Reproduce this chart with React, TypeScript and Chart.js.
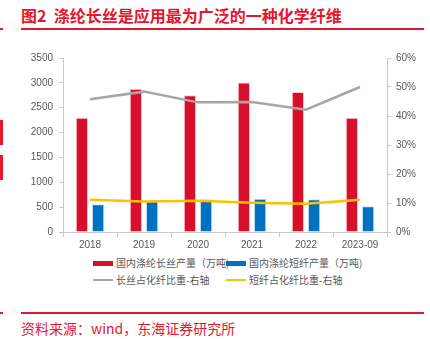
import React, { useEffect, useRef } from "react";
import { Chart, registerables } from "chart.js";

Chart.register(...registerables);

const categories = ["2018", "2019", "2020", "2021", "2022", "2023-09"];
const filamentOutput = [2300, 2880, 2750, 3005, 2815, 2300];
const staphOutput = [557, 617, 657, 670, 657, 517];
const filamentShare = [45.8, 48.4, 44.7, 44.8, 42.2, 50.0];
const staphShare = [11.1, 10.5, 10.8, 10.1, 9.7, 11.1];
const leftTicks = [0, 500, 1000, 1500, 2000, 2500, 3000, 3500];
const rightTicks = [0, 10, 20, 30, 40, 50, 60];

const titleText = "图2  涤纶长丝是应用最为广泛的一种化学纤维";
const sourceText = "资料来源：wind，东海证券研究所";
const legendLabels = [
  "国内涤纶长丝产量（万吨)",
  "国内涤纶短纤产量（万吨)",
  "长丝占化纤比重-右轴",
  "短纤占化纤比重-右轴",
];

const RED = "#D80F2B";
const BLUE = "#0070C0";
const GRAY = "#A6A6A6";
const YELLOW = "#FFC000";
const TITLE_RED = "#E3172E";
const FONT = "'Noto Sans CJK SC', 'Noto Sans', sans-serif";
const NUM_FONT = "'Liberation Sans', Arial, sans-serif";
const AXIS = "#C8C8C8";
const TICK_COLOR = "#595959";

export default function App() {
  const canvasRef = useRef<HTMLCanvasElement | null>(null);

  useEffect(() => {
    const ctx = canvasRef.current!;
    const chart = new Chart(ctx, {
      type: "bar",
      data: {
        labels: categories,
        datasets: [
          {
            type: "line",
            label: legendLabels[2],
            data: filamentShare,
            yAxisID: "y1",
            borderColor: GRAY,
            borderWidth: 2.5,
            pointRadius: 0,
            tension: 0,
            order: 0,
          },
          {
            type: "line",
            label: legendLabels[3],
            data: staphShare,
            yAxisID: "y1",
            borderColor: YELLOW,
            borderWidth: 2.5,
            pointRadius: 0,
            tension: 0,
            order: 0,
          },
          {
            type: "bar",
            label: legendLabels[0],
            data: filamentOutput,
            yAxisID: "y",
            backgroundColor: RED,
            borderColor: "rgba(255,200,205,0.9)",
            borderWidth: 1,
            categoryPercentage: 0.6,
            barPercentage: 0.76,
            order: 1,
          },
          {
            type: "bar",
            label: legendLabels[1],
            data: staphOutput,
            yAxisID: "y",
            backgroundColor: BLUE,
            borderColor: "rgba(190,220,245,0.9)",
            borderWidth: 1,
            categoryPercentage: 0.6,
            barPercentage: 0.76,
            order: 1,
          },
        ],
      },
      options: {
        animation: false,
        responsive: false,
        maintainAspectRatio: false,
        events: [],
        layout: { padding: { top: 13, left: 0, right: 0, bottom: 0 } },
        plugins: {
          legend: { display: false },
          title: { display: false },
          tooltip: { enabled: false },
        },
        scales: {
          x: {
            type: "category",
            offset: true,
            grid: {
              offset: true,
              drawOnChartArea: false,
              drawTicks: true,
              tickLength: 5,
              color: AXIS,
            },
            border: { color: AXIS, width: 1 },
            ticks: {
              color: TICK_COLOR,
              font: { family: NUM_FONT, size: 10 },
              padding: 2,
              maxRotation: 0,
              autoSkip: false,
            },
            afterFit: (scale: any) => {
              scale.height = 23;
            },
          },
          y: {
            type: "linear",
            position: "left",
            min: 0,
            max: 3500,
            afterBuildTicks: (scale: any) => {
              scale.ticks = leftTicks.map((v) => ({ value: v }));
            },
            grid: {
              drawOnChartArea: false,
              drawTicks: true,
              tickLength: 4,
              color: AXIS,
            },
            border: { color: AXIS, width: 1 },
            ticks: {
              color: TICK_COLOR,
              font: { family: NUM_FONT, size: 10 },
              padding: 6,
              callback: (v: any) => String(v),
            },
            afterFit: (scale: any) => {
              scale.width = 63;
            },
          },
          y1: {
            type: "linear",
            position: "right",
            min: 0,
            max: 60,
            afterBuildTicks: (scale: any) => {
              scale.ticks = rightTicks.map((v) => ({ value: v }));
            },
            grid: {
              drawOnChartArea: false,
              drawTicks: true,
              tickLength: 4,
              color: AXIS,
            },
            border: { color: AXIS, width: 1 },
            ticks: {
              color: TICK_COLOR,
              font: { family: NUM_FONT, size: 10 },
              padding: 5,
              callback: (v: any) => `${v}%`,
            },
            afterFit: (scale: any) => {
              scale.width = 43;
            },
          },
        },
      },
    });
    return () => chart.destroy();
  }, []);

  const legendItem = (
    idx: number,
    color: string,
    kind: "box" | "line",
    left: number,
    top: number
  ) => (
    <div
      key={idx}
      style={{
        position: "absolute",
        left,
        top,
        height: 14,
        display: "flex",
        alignItems: "center",
        whiteSpace: "nowrap",
      }}
    >
      <span
        style={{
          display: "inline-block",
          width: 20,
          height: kind === "box" ? 5 : 2,
          background: color,
          marginRight: 3,
        }}
      />
      <span style={{ fontSize: 10, color: TICK_COLOR, fontFamily: FONT, lineHeight: "14px" }}>
        {legendLabels[idx]}
      </span>
    </div>
  );

  return (
    <div
      style={{
        position: "absolute",
        left: 0,
        top: 0,
        width: 430,
        height: 339,
        background: "#fff",
        fontFamily: FONT,
        overflow: "hidden",
      }}
    >
      <div
        style={{
          position: "absolute",
          left: 21,
          top: 4,
          fontSize: 16,
          fontWeight: 700,
          color: TITLE_RED,
          whiteSpace: "pre",
          lineHeight: "23px",
        }}
      >
        {titleText}
      </div>
      <div style={{ position: "absolute", left: 21, top: 28, width: 403, height: 1.5, background: TITLE_RED }} />
      <div style={{ position: "absolute", left: 0, top: 28, width: 3, height: 1.5, background: TITLE_RED }} />
      <div style={{ position: "absolute", left: 0, top: 120, width: 3, height: 25, background: TITLE_RED }} />
      <div style={{ position: "absolute", left: 0, top: 155, width: 3, height: 25, background: TITLE_RED }} />

      <div style={{ position: "absolute", left: 0, top: 45, width: 430, height: 210 }}>
        <canvas ref={canvasRef} width={430} height={210} style={{ width: 430, height: 210, display: "block" }} />
      </div>

      {legendItem(0, RED, "box", 93, 256)}
      {legendItem(1, BLUE, "box", 226, 256)}
      {legendItem(2, GRAY, "line", 93, 273)}
      {legendItem(3, YELLOW, "line", 226, 273)}

      <div style={{ position: "absolute", left: 21, top: 312, width: 403, height: 1.5, background: TITLE_RED }} />
      <div style={{ position: "absolute", left: 0, top: 312, width: 3, height: 1.5, background: TITLE_RED }} />
      <div
        style={{
          position: "absolute",
          left: 21,
          top: 318,
          fontSize: 14,
          color: TITLE_RED,
          whiteSpace: "pre",
          lineHeight: "20px",
        }}
      >
        {sourceText}
      </div>
    </div>
  );
}
